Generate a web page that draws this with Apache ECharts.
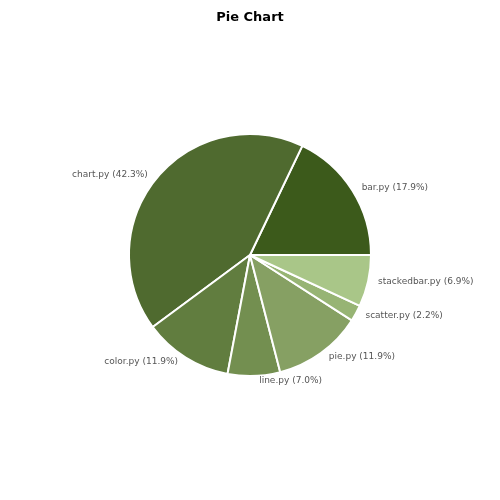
<!DOCTYPE html>
<html>
<head>
<meta charset="utf-8">
<script src="https://cdn.jsdelivr.net/npm/echarts@6/dist/echarts.min.js"></script>
<style>
  html, body { margin: 0; padding: 0; background: #fff; }
  #chart { width: 500px; height: 500px; }
</style>
</head>
<body>
<div id="chart"></div>
<script>
// slices, counterclockwise from 3 o'clock
const names = ["bar.py", "chart.py", "color.py", "line.py", "pie.py", "scatter.py", "stackedbar.py"];
const shares = [17.9, 42.3, 11.9, 7.0, 11.9, 2.2, 6.9];
const colors = ["#3c5a1b", "#4f6a2f", "#617d3f", "#738f50", "#86a063", "#97b474", "#a9c688"];

const chart = echarts.init(document.getElementById("chart"));

chart.setOption({
    animation: false,
    backgroundColor: "#ffffff",
    title: {
        text: "Pie Chart",
        left: "center",
        top: 6,
        textStyle: { fontFamily: "DejaVu Sans", fontSize: 13, fontWeight: "bold", color: "#000" }
    },
    series: [{
        type: "pie",
        center: [250, 255],
        radius: [0, 121],
        startAngle: 0,
        clockwise: false,
        itemStyle: { borderColor: "#fff", borderWidth: 2 },
        label: {
            position: "outside",
            fontFamily: "DejaVu Sans",
            fontSize: 9,
            color: "#555",
            formatter: (p) => p.name + " (" + p.value.toFixed(1) + "%)"
        },
        labelLine: { show: false, length: 5, length2: 0 },
        data: names.map((n, i) => ({ name: n, value: shares[i], itemStyle: { color: colors[i] } }))
    }]
});
</script>
</body>
</html>
